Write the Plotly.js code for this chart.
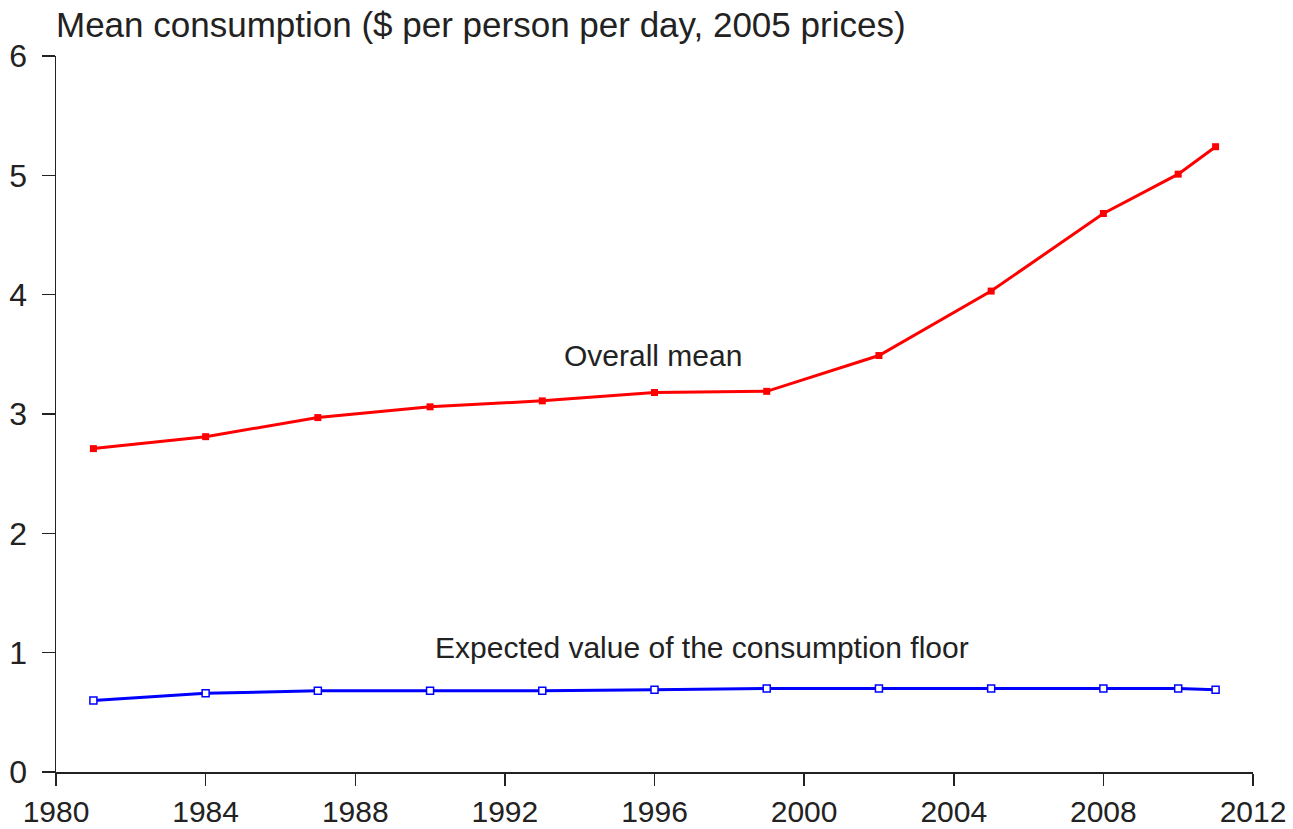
<!DOCTYPE html>
<html>
<head>
<meta charset="utf-8">
<script src="https://cdn.plot.ly/plotly-3.0.1.min.js"></script>
<style>html,body{margin:0;padding:0;background:#fff;}#chart{width:1293px;height:829px;}</style>
</head>
<body>
<div id="chart"></div>
<script>
var years = [1981, 1984, 1987, 1990, 1993, 1996, 1999, 2002, 2005, 2008, 2010, 2011];
var overallMean = [2.71, 2.81, 2.97, 3.06, 3.11, 3.18, 3.19, 3.49, 4.03, 4.68, 5.01, 5.24];
var floorValue = [0.60, 0.66, 0.68, 0.68, 0.68, 0.69, 0.70, 0.70, 0.70, 0.70, 0.70, 0.69];
var xTicks = [1980, 1984, 1988, 1992, 1996, 2000, 2004, 2008, 2012];
var yTicks = [0, 1, 2, 3, 4, 5, 6];
var titleText = "Mean consumption ($ per person per day, 2005 prices)";
var labelMean = "Overall mean";
var labelFloor = "Expected value of the consumption floor";

var font = "Liberation Sans, Arial, sans-serif";
var traces = [
  {x: years, y: overallMean, type: "scatter", mode: "lines+markers",
   line: {color: "#ff0000", width: 3},
   marker: {symbol: "square", size: 7, color: "#ff0000"}, showlegend: false},
  {x: years, y: floorValue, type: "scatter", mode: "lines+markers",
   line: {color: "#0000ff", width: 3},
   marker: {symbol: "square", size: 7, color: "#ffffff", line: {color: "#0000ff", width: 1.5}}, showlegend: false}
];
var layout = {
  width: 1293, height: 829,
  margin: {l: 56, r: 40, t: 56, b: 57},
  paper_bgcolor: "#fff", plot_bgcolor: "#fff",
  font: {family: font, color: "#222", size: 28},
  xaxis: {range: [1980, 2012], tickvals: xTicks, ticktext: xTicks.map(String),
    showgrid: false, zeroline: false, showline: true, linecolor: "#222", linewidth: 1.5,
    ticks: "outside", ticklen: 12, tickcolor: "#222", tickwidth: 1.5, ticklabelstandoff: 0,
    tickfont: {size: 30, family: font, color: "#222"}},
  yaxis: {range: [0, 6], tickvals: yTicks, showgrid: false, zeroline: false,
    showline: true, linecolor: "#222", linewidth: 1.5,
    ticks: "outside", ticklen: 13, tickcolor: "#222", tickwidth: 1.5, ticklabelstandoff: 8,
    tickfont: {size: 32, family: font, color: "#222"}},
  annotations: [
    {text: titleText, xref: "paper", yref: "paper", x: 0, y: 1, xshift: -2, yshift: 10,
     xanchor: "left", yanchor: "bottom", showarrow: false, font: {size: 35, family: font, color: "#222"}},
    {text: labelMean, xref: "x", yref: "y", x: 1995.96, y: 3.49, showarrow: false,
     font: {size: 30, family: font, color: "#222"}},
    {text: labelFloor, xref: "x", yref: "y", x: 1997.27, y: 1.04, showarrow: false,
     font: {size: 30, family: font, color: "#222"}}
  ]
};
Plotly.newPlot("chart", traces, layout, {displayModeBar: false, staticPlot: true});
</script>
</body>
</html>
